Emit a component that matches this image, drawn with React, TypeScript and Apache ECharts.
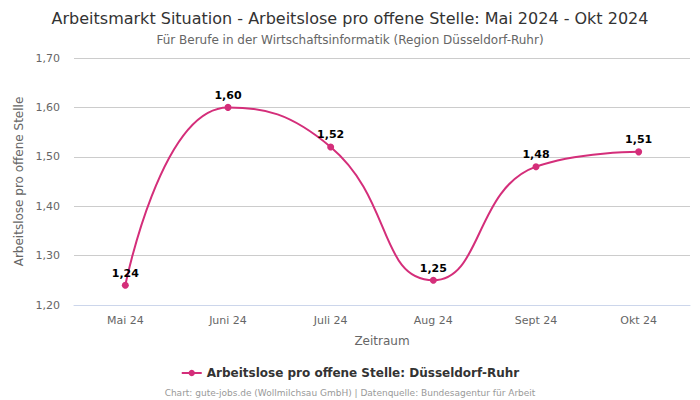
import React, { useEffect, useRef } from "react";
import * as echarts from "echarts";

const categories = ["Mai 24", "Juni 24", "Juli 24", "Aug 24", "Sept 24", "Okt 24"];
const values = [1.24, 1.6, 1.52, 1.25, 1.48, 1.51];
const seriesName = "Arbeitslose pro offene Stelle: Düsseldorf-Ruhr";

const fmt = (v: number) => v.toFixed(2).replace(".", ",");

export default function App() {
  const ref = useRef<HTMLDivElement>(null);
  useEffect(() => {
    const chart = echarts.init(ref.current!, null, { renderer: "svg" });
    chart.setOption({
      animation: false,
      textStyle: { fontFamily: "DejaVu Sans, sans-serif" },
      title: [
        {
          text: "Arbeitsmarkt Situation - Arbeitslose pro offene Stelle: Mai 2024 - Okt 2024",
          left: "center",
          top: 5,
          textStyle: { fontSize: 16, fontWeight: "normal", color: "#333" },
        },
        {
          text: "Für Berufe in der Wirtschaftsinformatik (Region Düsseldorf-Ruhr)",
          left: "center",
          top: 29,
          textStyle: { fontSize: 12, fontWeight: "normal", color: "#666" },
        },
        {
          text: "Chart: gute-jobs.de (Wollmilchsau GmbH) | Datenquelle: Bundesagentur für Arbeit",
          left: "center",
          top: 383,
          textStyle: { fontSize: 9, fontWeight: "normal", color: "#999" },
        },
      ],
      legend: {
        top: 362,
        left: "center",
        itemWidth: 20,
        itemHeight: 8,
        textStyle: { fontSize: 12, fontWeight: "bold", color: "#333" },
        data: [{ name: seriesName }],
      },
      grid: { left: 74, right: 10, top: 58, bottom: 95 },
      xAxis: {
        type: "category",
        data: categories,
        boundaryGap: true,
        name: "Zeitraum",
        nameLocation: "middle",
        nameGap: 30,
        nameTextStyle: { fontSize: 12, color: "#666" },
        axisLine: { lineStyle: { color: "#ccd6eb" } },
        axisTick: { show: false },
        axisLabel: { fontSize: 11, color: "#666", margin: 10 },
      },
      yAxis: {
        type: "value",
        min: 1.2,
        max: 1.7,
        interval: 0.1,
        name: "Arbeitslose pro offene Stelle",
        nameLocation: "middle",
        nameGap: 48,
        nameTextStyle: { fontSize: 12, color: "#666" },
        axisLabel: { fontSize: 11, color: "#666", formatter: (v: number) => fmt(v), margin: 14 },
        splitLine: { lineStyle: { color: "#ccc" } },
        axisLine: { show: false },
        axisTick: { show: false },
      },
      series: [
        {
          name: seriesName,
          type: "line",
          data: values,
          smooth: 0.5,
          symbol: "circle",
          symbolSize: 7,
          itemStyle: { color: "#d42e7a" },
          lineStyle: { width: 2, color: "#d42e7a" },
          label: {
            show: true,
            position: "top",
            distance: 3,
            formatter: (p: any) => fmt(p.value),
            fontSize: 11,
            fontWeight: "bold",
            color: "#000",
          },
        },
      ],
    });
    return () => chart.dispose();
  }, []);
  return <div ref={ref} style={{ width: 700, height: 400, position: "absolute", left: 0, top: 0 }} />;
}
